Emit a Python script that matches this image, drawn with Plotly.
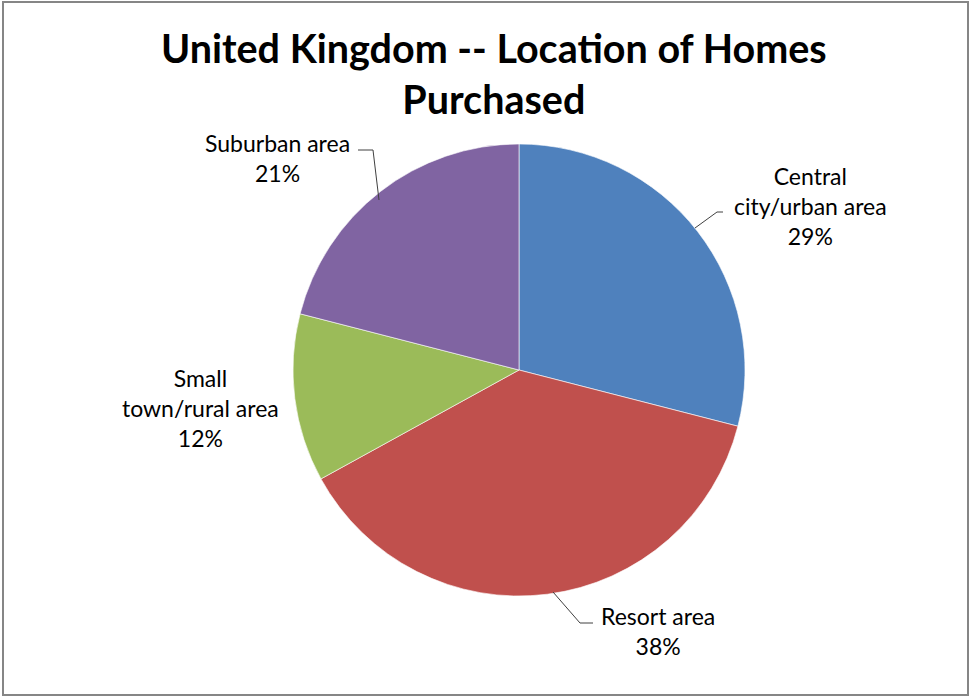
import plotly.graph_objects as go

# ---- data ----
categories = ["Central city/urban area", "Resort area", "Small town/rural area", "Suburban area"]
label_text = ["Central<br>city/urban area", "Resort area", "Small<br>town/rural area", "Suburban area"]
shares = [29, 38, 12, 21]
colors = ["#4F81BD", "#C0504D", "#9BBB59", "#8064A2"]

W, H = 972, 700
FONT = "Lato, Open Sans, sans-serif"

def px(x):
    return x / W

def py(y):
    return 1 - y / H

cx, cy, r = 519, 370, 226

fig = go.Figure()
fig.add_trace(go.Pie(
    labels=categories,
    values=shares,
    sort=False,
    direction="clockwise",
    rotation=0,
    marker=dict(colors=colors, line=dict(color="rgba(255,255,255,0.6)", width=1)),
    textinfo="none",
    hoverinfo="label+percent",
    showlegend=False,
    domain=dict(x=[px(cx - r), px(cx + r)], y=[py(cy + r), py(cy - r)]),
))

# label annotations (text built from data arrays)
label_pos = [(810, 206), (658, 631), (200, 408), (277, 158)]
annotations = []
for txt, v, (lx, ly) in zip(label_text, shares, label_pos):
    annotations.append(dict(
        x=px(lx), y=py(ly), xref="paper", yref="paper",
        text=f"{txt}<br>{v}%", showarrow=False, align="center",
        xanchor="center", yanchor="middle",
        font=dict(family=FONT, size=23, color="#000000"),
    ))

annotations.append(dict(
    x=px(494), y=py(73), xref="paper", yref="paper",
    text="<b>United Kingdom -- Location of Homes<br>Purchased</b>",
    showarrow=False, align="center", xanchor="center", yanchor="middle",
    font=dict(family=FONT, size=39.5, color="#000000"),
))

# leader lines
leaders = [
    [(723, 212), (717, 212), (695, 228)],
    [(593, 623), (580, 623), (553, 592)],
    [(358, 150), (373, 150), (379, 200)],
]
shapes = []
for pts in leaders:
    path = "M " + " L ".join(f"{px(x)} {py(y)}" for x, y in pts)
    shapes.append(dict(type="path", path=path, xref="paper", yref="paper",
                       line=dict(color="#404040", width=1)))

# outer chart border
shapes.append(dict(type="rect", xref="paper", yref="paper",
                   x0=px(3), x1=px(968), y0=py(695), y1=py(2),
                   line=dict(color="#868686", width=2)))

fig.update_layout(
    width=W, height=H,
    margin=dict(l=0, r=0, t=0, b=0),
    paper_bgcolor="white",
    plot_bgcolor="white",
    annotations=annotations,
    shapes=shapes,
)

fig.write_html(
    "out.html",
    config={"displayModeBar": False},
    post_script="document.body.style.margin='0';document.body.style.overflow='hidden';",
)
